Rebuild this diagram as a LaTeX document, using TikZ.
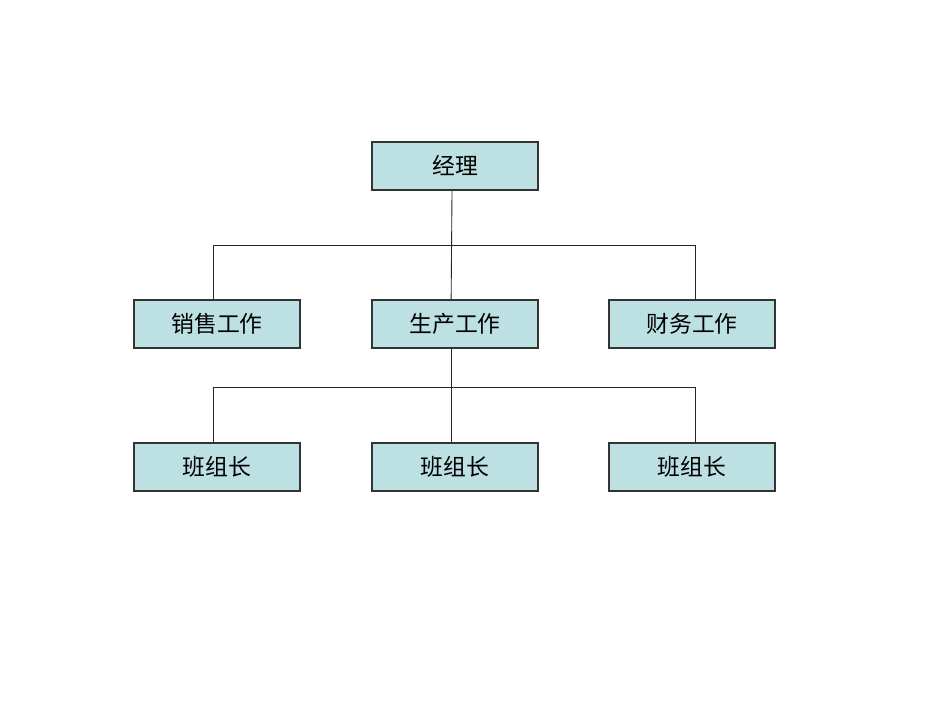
\documentclass[tikz,border=0pt]{standalone}
\usepackage{fontspec}
\newfontfamily\cjk{Noto Sans CJK SC}
\usepackage{tikz}
\usetikzlibrary{positioning}
\definecolor{boxfill}{RGB}{189,224,227}
\tikzset{
  x=0.02cm, y=-0.02cm,
  every box/.style={draw=black!80, fill=boxfill, line width=0.6pt,
    minimum width=3.32cm, minimum height=0.96cm, inner sep=0pt,
    font=\cjk\fontsize{13pt}{15pt}\selectfont},
  link/.style={draw=black!85, line width=0.5pt},
}

\begin{document}
\begin{tikzpicture}
      \useasboundingbox (0,0) rectangle (950,713);

      \node[every box] (jl) at (455,166) {经理};
      \node[every box] (xs) at (217,324) {销售工作};
      \node[every box] (sc) at (455,324) {生产工作};
      \node[every box] (cw) at (692,324) {财务工作};
      \node[every box] (bz1) at (217,467) {班组长};
      \node[every box] (bz2) at (455,467) {班组长};
      \node[every box] (bz3) at (692,467) {班组长};

      \coordinate (bar1) at (0,245);
      \coordinate (bar2) at (0,387);

      \draw[link] ([xshift=-1.7pt]jl.south) -- ([xshift=-2.2pt]sc.north);
      \draw[link] ([xshift=-2.2pt]xs.north) -- ([xshift=-2.2pt]xs.north |- bar1)
                  -- ([xshift=2.2pt]cw.north |- bar1) -- ([xshift=2.2pt]cw.north);
      \draw[link] ([xshift=-2.2pt]sc.south) -- ([xshift=-2.2pt]bz2.north);
      \draw[link] ([xshift=-2.2pt]bz1.north) -- ([xshift=-2.2pt]bz1.north |- bar2)
                  -- ([xshift=2.2pt]bz3.north |- bar2) -- ([xshift=2.2pt]bz3.north);
\end{tikzpicture}
\end{document}
